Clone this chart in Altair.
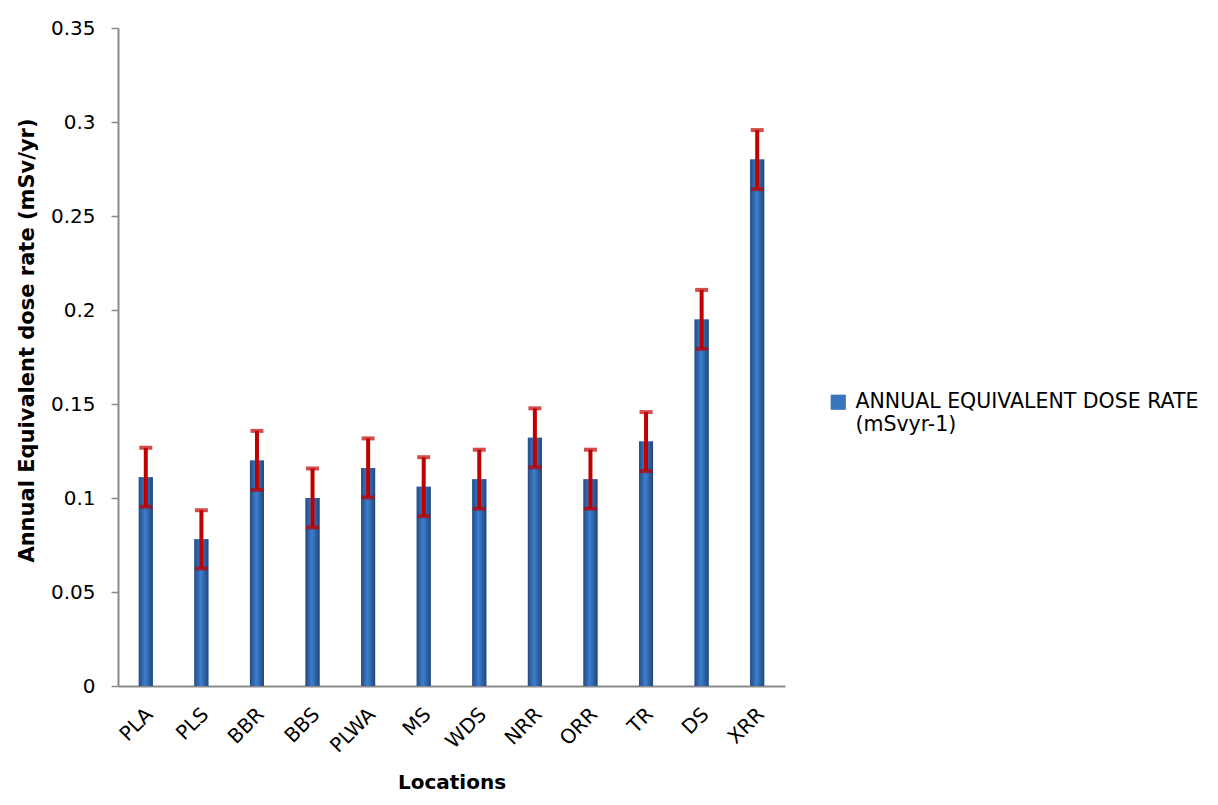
import altair as alt
import pandas as pd

locations = ["PLA", "PLS", "BBR", "BBS", "PLWA", "MS", "WDS", "NRR", "ORR", "TR", "DS", "XRR"]
dose = [0.111, 0.078, 0.120, 0.100, 0.116, 0.106, 0.110, 0.132, 0.110, 0.130, 0.195, 0.280]
err = [0.0157, 0.0155, 0.0157, 0.0157, 0.0157, 0.0157, 0.0157, 0.0157, 0.0157, 0.0157, 0.0157, 0.0157]
series_name = "ANNUAL EQUIVALENT DOSE RATE (mSvyr-1)"
y_ticks = [0, 0.05, 0.1, 0.15, 0.2, 0.25, 0.3, 0.35]

df = pd.DataFrame({
    "loc": locations,
    "dose": dose,
    "lo": [d - e for d, e in zip(dose, err)],
    "hi": [d + e for d, e in zip(dose, err)],
    "series": [series_name] * len(locations),
})

FONT = "DejaVu Sans"

x = alt.X("loc:N", sort=locations, title="Locations",
          scale=alt.Scale(paddingInner=0, paddingOuter=0),
          axis=alt.Axis(labelAngle=-45, labelAlign="right", labelBaseline="middle",
                        labelFontSize=20, labelFont=FONT, labelColor="#000000",
                        labelPadding=25, labelOffset=4, ticks=False,
                        domainColor="#8a8a8a", domainWidth=2,
                        titleFont=FONT, titleFontSize=20, titleFontWeight="bold",
                        titleColor="#000000", titleY=102, titleBaseline="alphabetic"))
y = alt.Y("dose:Q", title="Annual Equivalent dose rate (mSv/yr)",
          scale=alt.Scale(domain=[0, 0.35], nice=False),
          axis=alt.Axis(values=y_ticks, format="~g", grid=False,
                        labelFontSize=20, labelFont=FONT, labelColor="#000000",
                        labelPadding=16, tickSize=7, tickColor="#8a8a8a", tickWidth=1.5,
                        domainColor="#8a8a8a", domainWidth=2,
                        titleFont=FONT, titleFontSize=21, titleFontWeight="bold",
                        titleColor="#000000", titlePadding=13, titleY=312))

base = alt.Chart(df)

bars_legend = base.mark_bar(size=14).encode(
    x=x, y=y,
    color=alt.Color("series:N",
                    scale=alt.Scale(range=["#3a74bd"]),
                    legend=alt.Legend(title=None, orient="none", legendX=710, legendY=364,
                                      symbolType="square", symbolSize=230,
                                      symbolStrokeWidth=0,
                                      labelFont=FONT, labelFontSize=20.5, labelColor="#000000",
                                      labelLimit=0, labelOffset=7,
                                      labelExpr="['ANNUAL EQUIVALENT DOSE RATE', '(mSvyr-1)']")),
)

grad = alt.Gradient(
    gradient="linear",
    stops=[alt.GradientStop(offset=0, color="#244c82"),
           alt.GradientStop(offset=0.45, color="#3d7ecf"),
           alt.GradientStop(offset=1, color="#21477a")],
    x1=0, x2=1, y1=0, y2=0,
)
bars_grad = base.mark_bar(size=14, color=grad).encode(x=x, y=y)

err_rule = base.mark_rule(color="#c00000", strokeWidth=4).encode(
    x=alt.X("loc:N", sort=locations), y="lo:Q", y2="hi:Q")
cap_hi = base.mark_tick(color="#c00000", size=13, thickness=4).encode(
    x=alt.X("loc:N", sort=locations), y="hi:Q")
cap_lo = base.mark_tick(color="#c00000", size=13, thickness=4).encode(
    x=alt.X("loc:N", sort=locations), y="lo:Q")

chart = alt.layer(bars_legend, bars_grad, err_rule, cap_hi, cap_lo).properties(
    width=667, height=658,
    autosize=alt.AutoSizeParams(type="none"),
    padding={"left": 110, "top": 20, "right": 425, "bottom": 111},
).configure(background="#ffffff").configure_view(strokeWidth=0, stroke="transparent")

chart.save("out.html", embed_options={"renderer": "svg", "actions": False})
